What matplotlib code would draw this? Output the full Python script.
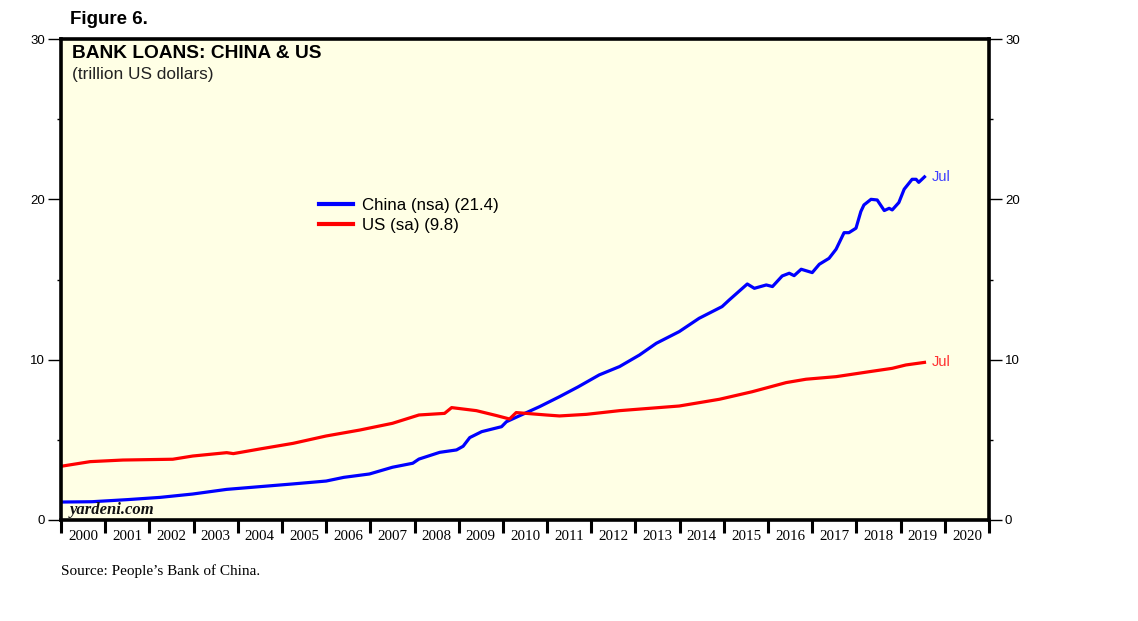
import matplotlib
matplotlib.use("Agg")
import matplotlib.pyplot as plt
from matplotlib.ticker import FixedLocator, NullFormatter

# ---- data (trillion US dollars), dates as decimal years ----
china_dates = [2000.0, 2000.7, 2001.5, 2002.24, 2002.98, 2003.75, 2004.5, 2005.25, 2006.0, 2006.4,
               2006.98, 2007.5, 2007.96, 2008.1, 2008.57, 2008.95, 2009.1, 2009.25, 2009.52, 2009.97,
               2010.08, 2010.83, 2011.28, 2011.7, 2012.18, 2012.64, 2013.09, 2013.47, 2013.99, 2014.44,
               2014.96, 2015.12, 2015.53, 2015.69, 2015.96, 2016.1, 2016.32, 2016.48, 2016.59, 2016.75,
               2017.0, 2017.16, 2017.38, 2017.54, 2017.72, 2017.83, 2017.99, 2018.1, 2018.17, 2018.33,
               2018.47, 2018.63, 2018.74, 2018.81, 2018.96, 2019.08, 2019.26, 2019.35, 2019.41, 2019.54]
china_values = [1.12, 1.14, 1.27, 1.41, 1.62, 1.91, 2.08, 2.25, 2.43, 2.66,
                2.87, 3.29, 3.54, 3.80, 4.22, 4.37, 4.60, 5.14, 5.51, 5.82,
                6.13, 7.07, 7.69, 8.30, 9.05, 9.57, 10.29, 11.02, 11.75, 12.58,
                13.31, 13.72, 14.72, 14.45, 14.66, 14.56, 15.22, 15.39, 15.24, 15.64,
                15.43, 15.95, 16.32, 16.89, 17.92, 17.92, 18.20, 19.24, 19.65, 20.00,
                19.96, 19.30, 19.44, 19.34, 19.80, 20.63, 21.25, 21.25, 21.06, 21.40]

us_dates = [2000.0, 2000.66, 2001.4, 2002.53, 2002.98, 2003.75, 2003.9, 2004.5, 2005.25, 2006.0,
            2006.76, 2007.2, 2007.5, 2008.1, 2008.68, 2008.84, 2009.4, 2009.86, 2010.15, 2010.3,
            2010.98, 2011.28, 2011.89, 2012.64, 2013.99, 2014.9, 2015.64, 2016.41, 2016.86, 2017.54,
            2018.29, 2018.81, 2019.12, 2019.54]
us_values = [3.35, 3.64, 3.74, 3.79, 3.99, 4.20, 4.14, 4.43, 4.78, 5.24,
             5.61, 5.86, 6.03, 6.55, 6.65, 7.01, 6.82, 6.51, 6.30, 6.70,
             6.55, 6.49, 6.59, 6.82, 7.11, 7.53, 8.00, 8.57, 8.78, 8.94,
             9.25, 9.46, 9.67, 9.83]

years = list(range(2000, 2021))
yticks_major = [0, 10, 20, 30]
yticks_minor = [5, 15, 25]

china_label = "China (nsa) (21.4)"
us_label = "US (sa) (9.8)"

# ---- figure ----
fig = plt.figure(figsize=(11.38, 6.21), dpi=100)
fig.patch.set_facecolor("white")
ax = fig.add_axes([61/1138, 1 - 520/621, (989 - 61)/1138, (520 - 39)/621])
ax.set_facecolor("#FFFFE5")

ax.plot(china_dates, china_values, color="#0000FF", lw=2.3, solid_joinstyle="round", label=china_label)
ax.plot(us_dates, us_values, color="#FF0000", lw=2.3, solid_joinstyle="round", label=us_label)

ax.set_xlim(2000, 2021)
ax.set_ylim(0, 30)

for s in ax.spines.values():
    s.set_linewidth(2.6)
    s.set_color("black")

# x ticks: year boundaries, labels at mid-year
ax.xaxis.set_major_locator(FixedLocator([y for y in range(2000, 2022)]))
ax.xaxis.set_major_formatter(NullFormatter())
ax.xaxis.set_minor_locator(FixedLocator([y + 0.5 for y in years]))
ax.set_xticklabels([str(y) for y in years], minor=True)
ax.tick_params(axis="x", which="major", direction="out", length=9.5, width=2.2, color="black")
ax.tick_params(axis="x", which="minor", length=0, pad=7, labelsize=10.8)
for t in ax.get_xticklabels(minor=True):
    t.set_family("Liberation Serif")

# y ticks both sides
ax.set_yticks(yticks_major)
ax.set_yticks(yticks_minor, minor=True)
ax.tick_params(axis="y", which="major", direction="out", length=9.5, width=1.0,
               left=True, right=True, labelleft=True, labelright=True, labelsize=9.5, pad=2)
ax.tick_params(axis="y", which="minor", direction="out", length=3, width=1.0,
               left=True, right=True)
for t in ax.get_yticklabels():
    t.set_family("Liberation Sans")

# legend
leg = ax.legend(loc="upper left", bbox_to_anchor=((312 - 61)/928, 1 - (191 - 39)/481),
                frameon=False, handlelength=2.0, handletextpad=0.55, labelspacing=0.28,
                prop={"family": "Liberation Sans", "size": 12.2}, borderaxespad=0)
for l in leg.get_lines():
    l.set_linewidth(3)

# end labels
ax.annotate("Jul", xy=(china_dates[-1], china_values[-1]), xytext=(5, 0), textcoords="offset points",
            color="#4040FF", fontsize=10.5, family="Liberation Sans", va="center", ha="left")
ax.annotate("Jul", xy=(us_dates[-1], us_values[-1]), xytext=(5, 0), textcoords="offset points",
            color="#FF3030", fontsize=10.5, family="Liberation Sans", va="center", ha="left")

# texts
fig.text(70/1138, 1 - 20/621, "Figure 6.", fontsize=13.5, fontweight="bold", family="Liberation Sans",
         va="center", ha="left")
fig.text(72/1138, 1 - 54/621, "BANK LOANS: CHINA & US", fontsize=13.8, fontweight="bold",
         family="Liberation Sans", va="center", ha="left")
fig.text(72/1138, 1 - 74/621, "(trillion US dollars)", fontsize=12.4, family="Liberation Sans",
         color="#222222", va="center", ha="left")
fig.text(70/1138, 1 - 510/621, "yardeni.com", fontsize=12, fontstyle="italic", fontweight="bold",
         family="Liberation Serif", color="#111111", va="center", ha="left")
fig.text(61/1138, 1 - 571/621, "Source: People\u2019s Bank of China.", fontsize=11,
         family="Liberation Serif", va="center", ha="left")

fig.savefig("out.png", dpi=100)
